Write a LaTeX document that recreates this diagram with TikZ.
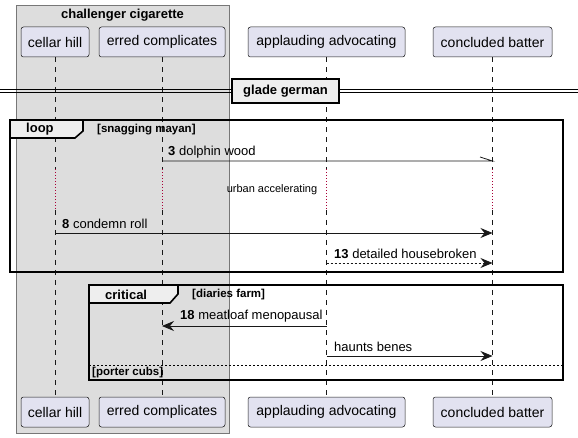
\documentclass[tikz,border=0pt]{standalone}
\usepackage{fontspec}
\setmainfont{Liberation Sans}
\usetikzlibrary{arrows.meta}
\definecolor{partfill}{HTML}{E2E2F0}
\definecolor{partdraw}{HTML}{181818}
\definecolor{grpfill}{HTML}{DDDDDD}
\definecolor{grpdraw}{HTML}{777777}
\definecolor{tabfill}{HTML}{EEEEEE}
\definecolor{delayred}{HTML}{A80036}
\tikzset{
  part/.style={draw=partdraw, fill=partfill, rounded corners=2.5pt, line width=0.5pt,
    minimum height=30pt, inner sep=0pt, font=\fontsize{14}{16}\selectfont},
  life/.style={draw=partdraw, line width=0.5pt, dash pattern=on 5pt off 5pt},
  delay/.style={draw=delayred, line width=1pt, dash pattern=on 1pt off 2pt},
  msg/.style={draw=partdraw, line width=0.8pt, -{Stealth[length=12pt,width=10pt,inset=4pt]}},
  dmsg/.style={msg, dash pattern=on 2pt off 2pt},
  plain/.style={draw=partdraw, line width=0.8pt},
  frame/.style={draw=black, line width=1.6pt},
  tab/.style={draw=black, line width=1.6pt, fill=tabfill},
  lbl/.style={anchor=west, inner sep=0pt, font=\fontsize{13}{15}\selectfont},
  guard/.style={anchor=west, inner sep=0pt, font=\fontsize{11.5}{13}\selectfont\bfseries},
  tabtxt/.style={anchor=west, inner sep=0pt, font=\fontsize{13}{15}\selectfont\bfseries},
}
\begin{document}
\begin{tikzpicture}[x=1pt,y=-1pt]
\useasboundingbox (0,0) rectangle (578,438);
% group box
\draw[draw=grpdraw, fill=grpfill, line width=0.8pt] (16,5) rectangle (229,433);
\node[inner sep=0pt, font=\fontsize{13}{15}\selectfont\bfseries] (grp) at (122.5,15) {challenger cigarette};
% participants
\node[part, minimum width=68pt] (ch) at (55,42) {cellar hill};
\node[part, minimum width=126pt] (ec) at (162,42) {erred complicates};
\node[part, minimum width=157pt] (aa) at (326.5,42) {applauding advocating};
\node[part, minimum width=119pt] (cb) at (492.5,42) {concluded batter};
\node[part, minimum width=68pt] (chb) at (55,412) {cellar hill};
\node[part, minimum width=126pt] (ecb) at (162,412) {erred complicates};
\node[part, minimum width=157pt] (aab) at (326.5,412) {applauding advocating};
\node[part, minimum width=119pt] (cbb) at (492.5,412) {concluded batter};
% lifelines with delay gap
\foreach \t/\b in {ch/chb, ec/ecb, aa/aab, cb/cbb}{
  \coordinate (\t d1) at (\t.south |- 0,169);
  \coordinate (\t d2) at (\t.south |- 0,210);
  \draw[life] (\t.south) -- (\t d1);
  \draw[delay] (\t d1) -- (\t d2);
  \draw[life] (\t d2) -- (\b.north);
}
% divider
\coordinate (dl1) at (0,89.5); \coordinate (dr1) at (578,89.5);
\coordinate (dl2) at (0,92.5); \coordinate (dr2) at (578,92.5);
\draw[black, line width=0.8pt] (dl1) -- (dr1);
\draw[black, line width=0.8pt] (dl2) -- (dr2);
\node[draw=black, line width=1.6pt, fill=tabfill, minimum width=107pt, minimum height=24pt, inner sep=0pt,
  font=\fontsize{13}{15}\selectfont\bfseries] (div) at (285.5,91) {glade german};
% loop frame
\draw[frame] (10,120) rectangle (563,272);
\draw[tab] (10,120) -- (83,120) -- (83,131) -- (75,138) -- (10,138) -- cycle;
\node[tabtxt] (looplbl) at (26,129.5) {loop};
\node[guard] (loopg) at (97,129.5) {[snagging mayan]};
% message 3 (half arrow)
\coordinate (m3a) at (ec.south |- 0,161);
\coordinate (m3b) at (cb.south |- 0,161);
\coordinate (m3h) at (480,157);
\draw[plain] (m3a) -- (m3b) -- (m3h);
\node[lbl] (t3) at (168,152) {\textbf{3} dolphin wood};
% delay text
\node[inner sep=0pt, font=\fontsize{11}{13}\selectfont] (dtxt) at (272,190) {urban accelerating};
% message 8
\coordinate (m8a) at (ch.south |- 0,233);
\coordinate (m8b) at (cb.south |- 0,233);
\draw[msg] (m8a) -- (m8b);
\node[lbl] (t8) at (62,224) {\textbf{8} condemn roll};
% message 13
\coordinate (m13a) at (aa.south |- 0,263);
\coordinate (m13b) at (cb.south |- 0,263);
\draw[dmsg] (m13a) -- (m13b);
\node[lbl] (t13) at (334,254) {\textbf{13} detailed housebroken};
% critical frame
\draw[frame] (89,285) rectangle (563,380);
\draw[tab] (89,285) -- (178,285) -- (178,294) -- (170,303) -- (89,303) -- cycle;
\node[tabtxt] (critlbl) at (105,294.5) {critical};
\node[guard] (critg) at (192,294.5) {[diaries farm]};
% message 18
\coordinate (m18a) at (aa.south |- 0,326);
\coordinate (m18b) at (ec.south |- 0,326);
\draw[msg] (m18a) -- (m18b);
\node[lbl] (t18) at (180,316.5) {\textbf{18} meatloaf menopausal};
% haunts benes
\coordinate (mha) at (aa.south |- 0,356);
\coordinate (mhb) at (cb.south |- 0,356);
\draw[msg] (mha) -- (mhb);
\node[lbl] (th) at (334,347) {haunts benes};
% else
\coordinate (el1) at (89,365); \coordinate (el2) at (563,365);
\draw[black, line width=0.8pt, dash pattern=on 2pt off 2pt] (el1) -- (el2);
\node[guard] (elseg) at (92,373) {[porter cubs]};
\end{tikzpicture}
\end{document}
